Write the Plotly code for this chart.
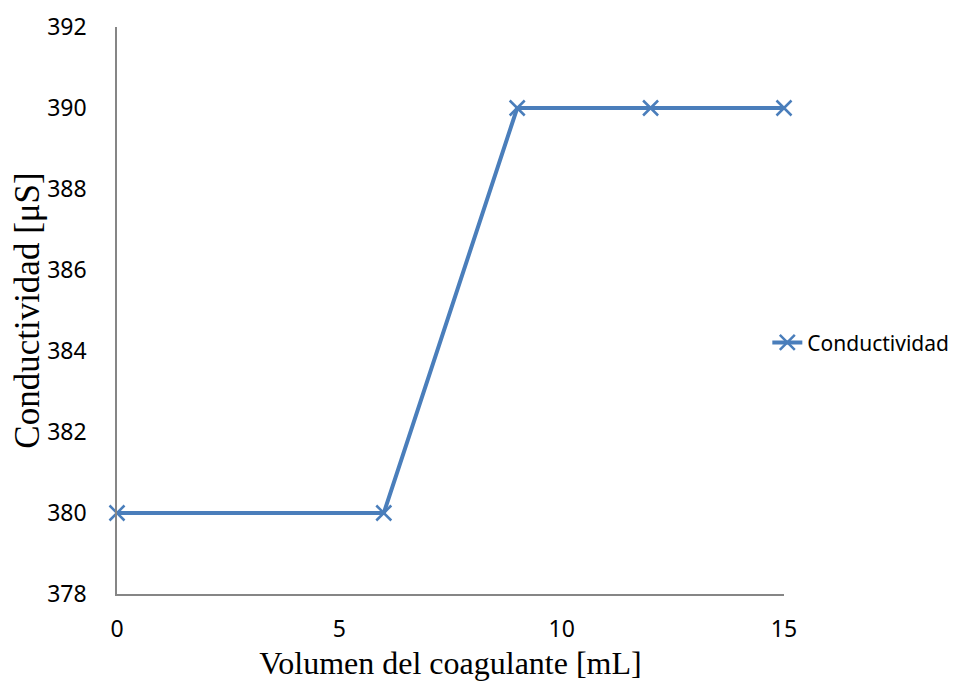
import plotly.graph_objects as go

volumen = [0, 6, 9, 12, 15]
conductividad = [380, 380, 390, 390, 390]
x_ticks = [0, 5, 10, 15]
y_ticks = [378, 380, 382, 384, 386, 388, 390, 392]

color = "#4A7EBB"
fig = go.Figure()
fig.add_trace(go.Scatter(
    x=volumen, y=conductividad, mode="lines+markers", name="Conductividad",
    line=dict(color=color, width=4),
    marker=dict(symbol="x-thin", size=15, line=dict(color=color, width=2.5), color=color),
    cliponaxis=False,
))

tickfont = dict(family="Noto Sans, Open Sans, sans-serif", size=23, color="#000")
serif = "Liberation Serif, Times New Roman, serif"
fig.update_layout(
    width=962, height=680,
    paper_bgcolor="white", plot_bgcolor="white",
    margin=dict(l=109, r=186, t=19, b=94),
    showlegend=True,
    legend=dict(x=0.975, y=0.443, xanchor="left", yanchor="middle",
                font=dict(family="Noto Sans, Open Sans, sans-serif", size=21, color="#000"),
                bgcolor="rgba(0,0,0,0)", itemwidth=30),
    xaxis=dict(range=[0, 15], tickvals=x_ticks, showgrid=False, zeroline=False,
               showline=True, linecolor="#868686", linewidth=1.5, automargin=False,
               tickfont=tickfont, ticks="", ticklabelstandoff=14,
               title=dict(text="Volumen del coagulante [mL]", standoff=8,
                          font=dict(family=serif, size=32, color="#000"))),
    yaxis=dict(range=[378, 392], tickvals=y_ticks, showgrid=False, zeroline=False,
               showline=True, linecolor="#868686", linewidth=1.5, automargin=False,
               tickfont=tickfont, ticks="", ticklabelstandoff=24,
               title=dict(text="Conductividad [μS]", standoff=6,
                          font=dict(family=serif, size=35, color="#000"))),
)
fig.write_html("out.html")
